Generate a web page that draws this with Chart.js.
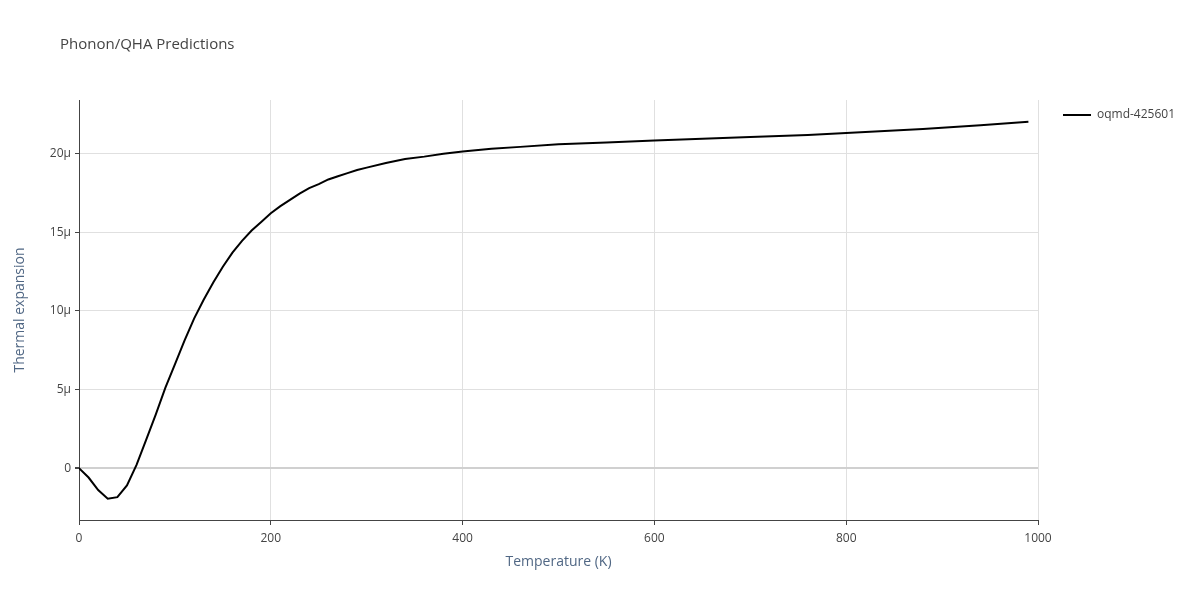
<!DOCTYPE html>
<html><head><meta charset="utf-8">
<script src="https://cdn.jsdelivr.net/npm/chart.js@4"></script>
<style>html,body{margin:0;padding:0;background:#fff}#c{display:block}</style>
</head><body>
<div style="width:1200px;height:600px"><canvas id="c"></canvas></div>
<script>
const temperatures=[0,10,20,30,40,50,60,70,80,90,100,110,120,130,140,150,160,170,180,190,200,210,220,230,240,250,260,270,280,290,300,320,340,360,380,400,430,460,500,550,600,650,700,760,800,880,940,990];
const expansion=[0,-0.6,-1.4,-1.95,-1.85,-1.1,0.2,1.8,3.4,5.1,6.6,8.1,9.5,10.7,11.8,12.8,13.7,14.45,15.1,15.65,16.2,16.65,17.05,17.45,17.8,18.05,18.35,18.55,18.75,18.95,19.1,19.4,19.65,19.8,19.98,20.12,20.3,20.42,20.58,20.7,20.83,20.94,21.04,21.17,21.3,21.55,21.8,22.02];
const seriesName='oqmd-425601';
const yTicks=[0,5,10,15,20];
const font='"Open Sans", sans-serif';
const extras={id:'extras',afterDraw(ch){const c=ch.ctx;c.save();
c.font='15px '+font;c.fillStyle='#444';c.textBaseline='middle';c.fillText('Phonon/QHA Predictions',60,45);
c.strokeStyle='#000';c.lineWidth=2;c.beginPath();c.moveTo(1063,115);c.lineTo(1091,115);c.stroke();
c.font='12px '+font;c.fillText(seriesName,1097,115);c.restore();}};
new Chart(document.getElementById('c'),{type:'line',
data:{datasets:[{label:seriesName,data:temperatures.map((t,i)=>({x:t,y:expansion[i]})),borderColor:'#000',borderWidth:2,pointRadius:0,tension:0,fill:false}]},
options:{responsive:true,maintainAspectRatio:false,animation:false,
layout:{padding:{top:100,right:162,left:8,bottom:26}},
plugins:{legend:{display:false},title:{display:false},tooltip:{enabled:false}},
scales:{
x:{type:'linear',min:0,max:1000,afterFit:s=>{s.height=54},
ticks:{stepSize:200,color:'#444',font:{family:font,size:12},padding:6,callback:v=>String(v)},
grid:{color:'#e0e0e0',tickLength:5,tickColor:'#444'},border:{color:'#444'},
title:{display:true,text:'Temperature (K)',color:'#506784',font:{family:font,size:14},padding:{top:4}}},
y:{min:-3.3,max:23.4,afterFit:s=>{s.width=71},
afterBuildTicks:s=>{s.ticks=yTicks.map(v=>({value:v}))},
ticks:{color:'#444',font:{family:font,size:12},callback:v=>v===0?'0':v+'µ',padding:4},
grid:{color:c=>c.tick&&c.tick.value===0?'#d0d0d0':'#e0e0e0',lineWidth:c=>c.tick&&c.tick.value===0?2:1,tickLength:4,tickColor:'#444'},border:{color:'#444'},
title:{display:true,text:'Thermal expansion',color:'#506784',font:{family:font,size:14},padding:{bottom:8}}}
}},plugins:[extras]});
</script></body></html>
